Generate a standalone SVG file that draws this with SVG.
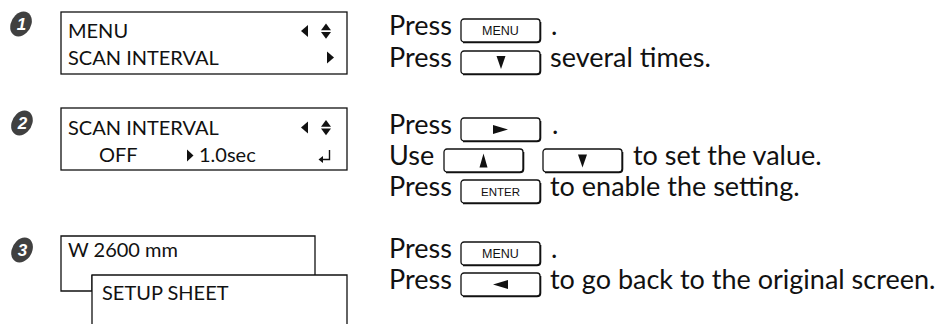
<svg xmlns="http://www.w3.org/2000/svg" width="945" height="324" viewBox="0 0 945 324">
<style>
.t{font-family:Lato,"Liberation Sans",sans-serif;font-size:27px;fill:#111}
.lcd{font-family:Lato,"Liberation Sans",sans-serif;font-size:20px;fill:#111}
.box{fill:#fff;stroke:#111;stroke-width:1.3}
.kl{font-family:"Liberation Sans",Arial,sans-serif;font-size:12.5px;fill:#111;text-anchor:middle}
.g{fill:#111}
.num{fill:#404040}
.nt{font-family:"Liberation Sans",Arial,sans-serif;font-size:17px;font-weight:bold;font-style:italic;fill:#fff;text-anchor:middle}
</style>
<defs>
  <g id="key">
    <rect x="0" y="0" width="79" height="23" rx="3" fill="#fff" stroke="#111" stroke-width="1.3"/>
    <path d="M2,23.6 H76 Q79.6,23.6 79.6,20 V3" fill="none" stroke="#111" stroke-width="1.4"/>
  </g>
</defs>

<g id="step1">
  <g id="num1"><ellipse class="num" cx="21" cy="24" rx="10.5" ry="12.5" transform="skewX(-12) translate(5.1,0)"/><text class="nt" x="21.5" y="30">1</text></g>
  <g id="lcd1">
    <rect class="box" x="61" y="12" width="286" height="62"/>
    <text class="lcd" x="68" y="38">MENU</text>
    <text class="lcd" x="68" y="65">SCAN INTERVAL</text>
    <polygon class="g" points="301,31 308,25 308,37"/>
    <polygon class="g" points="326,23.5 331,30.3 321,30.3"/>
    <polygon class="g" points="321,32 331,32 326,38.8"/>
    <polygon class="g" points="327,51.5 334,57.5 327,63.5"/>
  </g>
  <g id="instr1">
    <text class="t" x="389" y="35">Press</text>
    <use href="#key" x="461" y="19"/>
    <text class="kl" x="500.5" y="35">MENU</text>
    <text class="t" x="551" y="35">.</text>
    <text class="t" x="389" y="67">Press</text>
    <use href="#key" x="461" y="51"/>
    <polygon class="g" points="496.5,56 505.5,56 501,69"/>
    <text class="t" x="550" y="67">several times.</text>
  </g>
</g>

<g id="step2">
  <g id="num2"><ellipse class="num" cx="22" cy="123" rx="10.5" ry="12.5" transform="skewX(-12) translate(26.1,0)"/><text class="nt" x="22.5" y="129">2</text></g>
  <g id="lcd2">
    <rect class="box" x="61" y="108" width="286" height="62"/>
    <text class="lcd" x="68" y="135">SCAN INTERVAL</text>
    <text class="lcd" x="99" y="162">OFF</text>
    <polygon class="g" points="187,149.5 193.5,155.5 187,161.5"/>
    <text class="lcd" x="199" y="162">1.0sec</text>
    <polygon class="g" points="301,127.5 308,121.5 308,133.5"/>
    <polygon class="g" points="326,120 331,126.8 321,126.8"/>
    <polygon class="g" points="321,128.5 331,128.5 326,135.3"/>
    <path d="M329.5,150 V159.5 H322" fill="none" stroke="#111" stroke-width="1.4"/>
    <polygon class="g" points="318.5,159.5 323,156 323,163"/>
  </g>
  <g id="instr2">
    <text class="t" x="389" y="134">Press</text>
    <use href="#key" x="461" y="118"/>
    <polygon class="g" points="493,125 508,129.5 493,134"/>
    <text class="t" x="552" y="134">.</text>
    <text class="t" x="389" y="165">Use</text>
    <use href="#key" x="444" y="149"/>
    <polygon class="g" points="483.5,153.5 487.5,167.5 479.5,167.5"/>
    <use href="#key" x="543" y="149"/>
    <polygon class="g" points="578,154.5 587,154.5 582.5,167.5"/>
    <text class="t" x="633" y="165">to set the value.</text>
    <text class="t" x="389" y="196">Press</text>
    <use href="#key" x="461" y="180"/>
    <text class="kl" x="500.5" y="196" style="font-size:11.5px">ENTER</text>
    <text class="t" x="550" y="196">to enable the setting.</text>
  </g>
</g>

<g id="step3">
  <g id="num3"><ellipse class="num" cx="22" cy="250" rx="10.5" ry="12.5" transform="skewX(-12) translate(53.2,0)"/><text class="nt" x="22.5" y="256">3</text></g>
  <g id="lcd3">
    <path class="box" d="M92,275 V291 H61 V236 H315 V275" fill="none"/>
    <path class="box" d="M92,325 V275 H347 V325"/>
    <text class="lcd" x="68" y="257">W 2600 mm</text>
    <text class="lcd" x="102" y="300">SETUP SHEET</text>
  </g>
  <g id="instr3">
    <text class="t" x="389" y="258">Press</text>
    <use href="#key" x="461" y="242"/>
    <text class="kl" x="500.5" y="258">MENU</text>
    <text class="t" x="551" y="258">.</text>
    <text class="t" x="389" y="289">Press</text>
    <use href="#key" x="461" y="273"/>
    <polygon class="g" points="493,284.5 508,280 508,289"/>
    <text class="t" x="550" y="289">to go back to the original screen.</text>
  </g>
</g>
</svg>
